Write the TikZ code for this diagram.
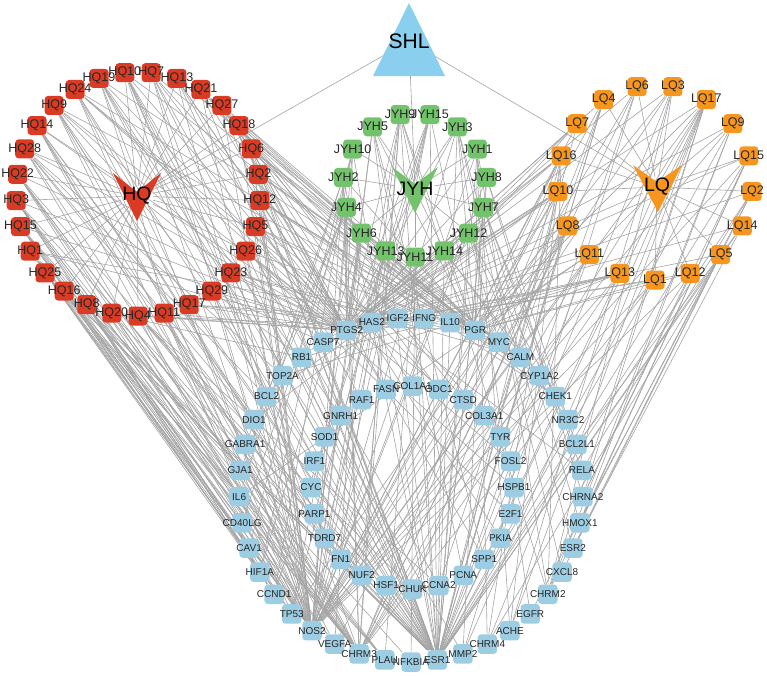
\documentclass[tikz,border=0pt]{standalone}
\usepackage{fontspec}
\setmainfont{Liberation Sans}
\usetikzlibrary{backgrounds}
\definecolor{hqred}{HTML}{D93B25}
\definecolor{jyhgreen}{HTML}{72C36C}
\definecolor{lqorange}{HTML}{F6961E}
\definecolor{tgtblue}{HTML}{9DCDE3}
\definecolor{shlblue}{HTML}{8AD0EE}
\definecolor{edgegray}{HTML}{A4A4A4}
\definecolor{lbltext}{HTML}{262626}
\begin{document}
\begin{tikzpicture}[x=1pt,y=-1pt,
  box/.style={rectangle, rounded corners=3.5pt, minimum size=19pt, inner sep=0pt, draw=none},
  hqbox/.style={box, fill=hqred},
  jyhbox/.style={box, fill=jyhgreen},
  lqbox/.style={box, fill=lqorange},
  tbox/.style={box, fill=tgtblue, minimum size=19.5pt},
  lbl/.style={font=\fontsize{12.5}{12.5}\selectfont, text=lbltext, inner sep=0pt},
  tlbl/.style={font=\fontsize{10}{10}\selectfont, text=lbltext, inner sep=0pt},
  biglbl/.style={font=\fontsize{19.5}{19.5}\selectfont, text=black, inner sep=1pt},
  edge/.style={draw=edgegray, line width=0.6pt}]
\useasboundingbox (0,0) rectangle (767,675);

% ---- herb shapes ----
\fill[shlblue] (409,3) -- (445,76) -- (373,76) -- cycle;
\fill[hqred] (113,173) -- (137,192) -- (161,173) -- (137,221) -- cycle;
\fill[jyhgreen] (392,167) -- (415,184) -- (438,167) -- (415,213) -- cycle;
\fill[lqorange] (633,165) -- (657,182) -- (682,165) -- (658,212) -- cycle;

\node[biglbl, font=\fontsize{21}{21}\selectfont] (SHL) at (409,41) {SHL};
\node[biglbl] (hHQ) at (137,196) {HQ};
\node[biglbl] (hJYH) at (415,189) {JYH};
\node[biglbl] (hLQ) at (657,187) {LQ};

% ---- compound rings ----
\def\hqlist{HQ4,HQ11,HQ17,HQ29,HQ23,HQ26,HQ5,HQ12,HQ2,HQ6,HQ18,HQ27,HQ21,HQ13,HQ7,HQ10,HQ19,HQ24,HQ9,HQ14,HQ28,HQ22,HQ3,HQ15,HQ1,HQ25,HQ16,HQ8,HQ20}
\def\jyhlist{JYH11,JYH14,JYH12,JYH7,JYH8,JYH1,JYH3,JYH15,JYH9,JYH5,JYH10,JYH2,JYH4,JYH6,JYH13}
\def\lqlist{LQ1,LQ12,LQ5,LQ14,LQ2,LQ15,LQ9,LQ17,LQ3,LQ6,LQ4,LQ7,LQ16,LQ10,LQ8,LQ11,LQ13}
\def\outerlist{NFKBIA,ESR1,MMP2,CHRM4,ACHE,EGFR,CHRM2,CXCL8,ESR2,HMOX1,CHRNA2,RELA,BCL2L1,NR3C2,CHEK1,CYP1A2,CALM,MYC,PGR,IL10,IFNG,IGF2,HAS2,PTGS2,CASP7,RB1,TOP2A,BCL2,DIO1,GABRA1,GJA1,IL6,CD40LG,CAV1,HIF1A,CCND1,TP53,NOS2,VEGFA,CHRM3,PLAU}
\def\innerlist{CHUK,CCNA2,PCNA,SPP1,PKIA,E2F1,HSPB1,FOSL2,TYR,COL3A1,CTSD,ODC1,COL1A1,FASN,RAF1,GNRH1,SOD1,IRF1,CYC,PARP1,TDRD7,FN1,NUF2,HSF1}

\foreach \n [count=\i from 0] in \hqlist {
  \pgfmathsetmacro\a{270+\i*360/29}
  \node[hqbox] (\n) at ({138+122*cos(\a)},{194-122*sin(\a)}) {};
}
\foreach \n [count=\i from 0] in \jyhlist {
  \pgfmathsetmacro\a{270+\i*360/15}
  \node[jyhbox] (\n) at ({415+72*cos(\a)},{185-72*sin(\a)}) {};
}
\foreach \n [count=\i from 0] in \lqlist {
  \pgfmathsetmacro\a{270+\i*360/17}
  \node[lqbox] (\n) at ({655+97.5*cos(\a)},{182.5-97.5*sin(\a)}) {};
}
\foreach \n [count=\i from 0] in \outerlist {
  \pgfmathsetmacro\a{270+\i*360/41}
  \node[tbox] (\n) at ({411+172*cos(\a)},{490-172*sin(\a)}) {};
}
\foreach \n [count=\i from 0] in \innerlist {
  \pgfmathsetmacro\a{270+\i*15}
  \node[tbox] (\n) at ({412.5+101.5*cos(\a)},{487.5-101.5*sin(\a)}) {};
}

% ---- labels on top ----
\foreach \n in \hqlist {\node[lbl] at (\n) {\n};}
\foreach \n in \jyhlist {\node[lbl] at (\n) {\n};}
\foreach \n in \lqlist {\node[lbl] at (\n) {\n};}
\foreach \n in \outerlist {\node[tlbl] at (\n) {\n};}
\foreach \n in \innerlist {\node[tlbl] at (\n) {\n};}

% ---- edges ----
\begin{scope}[on background layer]
\draw[edge] (SHL) -- (hHQ);
\draw[edge] (SHL) -- (hJYH);
\draw[edge] (SHL) -- (hLQ);
\foreach \n in \hqlist {\draw[edge] (hHQ) -- (\n);}
\foreach \n in \jyhlist {\draw[edge] (hJYH) -- (\n);}
\foreach \n in \lqlist {\draw[edge] (hLQ) -- (\n);}
\foreach \c/\ts in {
 HQ1/{NOS2,PTGS2,CHRM3,ESR1,TP53,PGR,IL6},
 HQ2/{PTGS2,NOS2,ESR1,MYC,CALM,CHEK1},
 HQ3/{NOS2,PTGS2,ESR1,CHRM3,PLAU,VEGFA,IL6,CAV1},
 HQ4/{PTGS2,NOS2,PGR,ESR1,CCNA2,CHUK,HSF1},
 HQ5/{PTGS2,ESR1,PGR,NOS2,RELA,IFNG},
 HQ6/{PTGS2,NOS2,ESR1,MYC,PGR,IL10,TOP2A},
 HQ7/{PTGS2,NOS2,ESR1,PGR,CHRM3,CCNA2,ODC1},
 HQ8/{NOS2,ESR1,TP53,CCND1,HIF1A,CHRM3},
 HQ9/{PTGS2,NOS2,ESR1,PGR,CASP7,FN1,TDRD7,CHRM3},
 HQ10/{PTGS2,NOS2,ESR1,PGR,CYC,PARP1,IRF1,MMP2},
 HQ11/{PTGS2,NOS2,TP53,VEGFA,CHRM3},
 HQ12/{PTGS2,NOS2,ESR1,CALM,CYP1A2,CHEK1},
 HQ13/{PTGS2,NOS2,ESR1,PGR,MYC,RAF1,FASN},
 HQ14/{PTGS2,NOS2,CHRM3,ESR1,GJA1,GABRA1,DIO1},
 HQ15/{NOS2,CHRM3,PLAU,NFKBIA,CD40LG,CAV1,PTGS2},
 HQ16/{NOS2,TP53,CCND1,ESR1,VEGFA,HIF1A},
 HQ17/{PTGS2,HAS2,IGF2,NOS2,ESR1},
 HQ18/{PTGS2,NOS2,ESR1,PGR,COL1A1,ODC1,CTSD},
 HQ19/{PTGS2,NOS2,ESR1,PGR,SOD1,GNRH1,BCL2},
 HQ20/{NOS2,ESR1,PTGS2,CHRM3,RB1},
 HQ21/{PTGS2,NOS2,ESR1,PGR,IFNG,IL10,COL3A1},
 HQ22/{NOS2,PTGS2,ESR1,CHRM3,PLAU,IL6,GJA1},
 HQ23/{PTGS2,ESR1,NOS2,CALM,MYC},
 HQ24/{PTGS2,NOS2,ESR1,CHRM3,PGR,TYR,FOSL2},
 HQ25/{NOS2,TP53,ESR1,PLAU,CHRM3,CCND1},
 HQ26/{PTGS2,NOS2,ESR1,PGR,HSPB1,E2F1},
 HQ27/{PTGS2,NOS2,ESR1,PGR,MYC,PKIA,SPP1},
 HQ28/{NOS2,PTGS2,CHRM3,ESR1,DIO1,BCL2,TOP2A},
 HQ29/{PTGS2,NOS2,ESR1,CASP7,RB1},
 JYH1/{PTGS2,PGR,ESR1,NOS2,CHRM2,ACHE,CHRM4},
 JYH2/{PTGS2,NOS2,ESR1,CHRM3,PGR,BCL2,IL6},
 JYH3/{PTGS2,ESR1,NOS2,PGR,EGFR,CXCL8,ESR2},
 JYH4/{PTGS2,NOS2,CHRM3,GJA1,GABRA1,CD40LG},
 JYH5/{PTGS2,NOS2,ESR1,PGR,PCNA,SPP1},
 JYH6/{PTGS2,NOS2,VEGFA,TP53,HIF1A},
 JYH7/{PTGS2,ESR1,PGR,RELA,BCL2L1,HMOX1},
 JYH8/{PTGS2,NOS2,ESR1,CHRNA2,NR3C2,MMP2},
 JYH9/{PTGS2,NOS2,ESR1,PGR,CHRM3,CHRM2,FN1,NUF2},
 JYH10/{PTGS2,NOS2,ESR1,CAV1,HIF1A,CCND1},
 JYH11/{PTGS2,ESR1,PGR,NFKBIA,PLAU},
 JYH12/{PTGS2,NOS2,ESR1,MYC,CALM,CHEK1},
 JYH13/{PTGS2,NOS2,CHRM3,TP53,CCND1},
 JYH14/{PTGS2,ESR1,PGR,CYP1A2,NR3C2},
 JYH15/{PTGS2,NOS2,ESR1,PGR,TDRD7,PARP1,CYC},
 LQ1/{PTGS2,NOS2,ESR1,PGR,CHRM3},
 LQ2/{PTGS2,ESR1,RELA,HMOX1,ESR2},
 LQ3/{PTGS2,NOS2,ESR1,PGR,CHRM2,ACHE},
 LQ4/{PTGS2,NOS2,ESR1,CCNA2,CHUK,PCNA},
 LQ5/{PTGS2,ESR1,CXCL8,EGFR,CHRM4},
 LQ6/{PTGS2,NOS2,ESR1,MMP2,CHRM3},
 LQ7/{PTGS2,ESR1,NOS2,HAS2,IGF2},
 LQ8/{PTGS2,NOS2,ESR1,PGR,CHRM3,TP53,VEGFA},
 LQ9/{PTGS2,NOS2,ESR1,CHRM2,HMOX1},
 LQ10/{PTGS2,NOS2,ESR1,PGR,CHRM3,BCL2,DIO1,CASP7},
 LQ11/{PTGS2,NOS2,ESR1,PGR,CHRM3,IL6},
 LQ12/{PTGS2,ESR1,PGR,NOS2,CHRNA2},
 LQ13/{PTGS2,NOS2,ESR1,PGR,CHRM3,TOP2A,RB1,CASP7},
 LQ14/{PTGS2,ESR1,ESR2,BCL2L1},
 LQ15/{PTGS2,NOS2,ESR1,CHRM2,CHRNA2,HMOX1},
 LQ16/{PTGS2,NOS2,ESR1,PGR,CHRM3,CHRM4,CHRM2,ACHE,RB1,HAS2},
 LQ17/{PTGS2,NOS2,ESR1,PGR,CHRM3,CHRM2,CHRM4,ACHE,CHRNA2,MMP2}}
 { \foreach \t in \ts { \draw[edge] (\c) -- (\t); } }
\end{scope}
\end{tikzpicture}
\end{document}
